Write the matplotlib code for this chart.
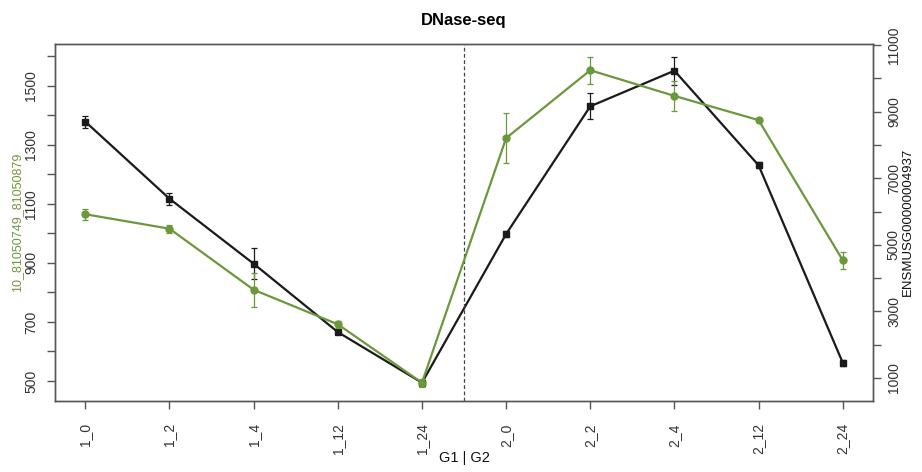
import matplotlib
matplotlib.use("Agg")
import matplotlib.pyplot as plt
import numpy as np

plt.rcParams['font.family'] = ['Liberation Sans', 'DejaVu Sans']

# data
samples = ['1_0', '1_2', '1_4', '1_12', '1_24', '2_0', '2_2', '2_4', '2_12', '2_24']

# left axis, green: 10_81050749_81050879
green_vals = [1065, 1016, 809, 692, 494, 1323, 1553, 1466, 1384, 909]
green_err = [19, 14, 58, 12, 14, 86, 45, 52, 8, 29]

# right axis, black: ENSMUSG00000004937
black_vals = [8697, 6384, 4432, 2380, 859, 5324, 9159, 10228, 7387, 1459]
black_err = [180, 180, 470, 60, 60, 90, 385, 415, 90, 90]

GREEN = '#6b983b'
BLACK = '#1a1a1a'
AXCOL = '#555555'
TXT = '#333333'

x = np.arange(len(samples))

W, H = 922, 472
fig = plt.figure(figsize=(W / 100, H / 100), dpi=100)
ax = fig.add_axes([0.0597, 0.1504, 0.8872, 0.7564])
ax2 = ax.twinx()

ax.set_xlim(-0.36, 9.36)
ax.set_ylim(432, 1642)
ax2.set_ylim(310, 11030)

# black series on right axis
ax2.errorbar(x, black_vals, yerr=black_err, color=BLACK, lw=1.6, marker='s',
             markersize=5, elinewidth=0.9, capsize=2.5, capthick=0.9, zorder=2)

# dashed separator between groups
ax.axvline(4.5, color='#444444', lw=0.9, ls=(0, (3, 2)))

# green series on left axis, drawn on top
ax.set_zorder(ax2.get_zorder() + 1)
ax.patch.set_visible(False)
ax.errorbar(x, green_vals, yerr=green_err, color=GREEN, lw=1.6, marker='o',
            markersize=5, elinewidth=0.9, capsize=2.5, capthick=0.9, zorder=3)

for a in (ax, ax2):
    for s in a.spines.values():
        s.set_color(AXCOL)
        s.set_linewidth(1.0)
    a.tick_params(colors=AXCOL, labelcolor=TXT, length=6, width=1.0, labelsize=10)

left_ticks = list(range(500, 1700, 100))
ax.set_yticks(left_ticks)
ax.set_yticklabels([str(v) if (v - 500) % 200 == 0 else '' for v in left_ticks],
                   rotation=90, va='center')
ax.tick_params(axis='y', pad=6)
right_ticks = list(range(1000, 12000, 1000))
ax2.set_yticks(right_ticks)
ax2.set_yticklabels([str(v) if (v - 1000) % 2000 == 0 else '' for v in right_ticks],
                    rotation=90, va='center')
ax2.tick_params(axis='y', pad=4)

ax.set_xticks(x)
ax.set_xticklabels(samples, rotation=90, va='top')
ax.tick_params(axis='x', pad=10)

fig.text(17 / W, 1 - 222 / H, '10_81050749_81050879', color=GREEN, fontsize=9,
         rotation=90, ha='center', va='center')
fig.text(908 / W, 1 - 222 / H, 'ENSMUSG00000004937', color='#111111', fontsize=9.5,
         rotation=90, ha='center', va='center')
fig.text(464 / W, 1 - 458 / H, 'G1 | G2', color='#111111', fontsize=10.5,
         ha='center', va='center')
ax.set_title('DNase-seq', fontsize=12, fontweight='bold', pad=14)

fig.savefig('out.png', dpi=100)
